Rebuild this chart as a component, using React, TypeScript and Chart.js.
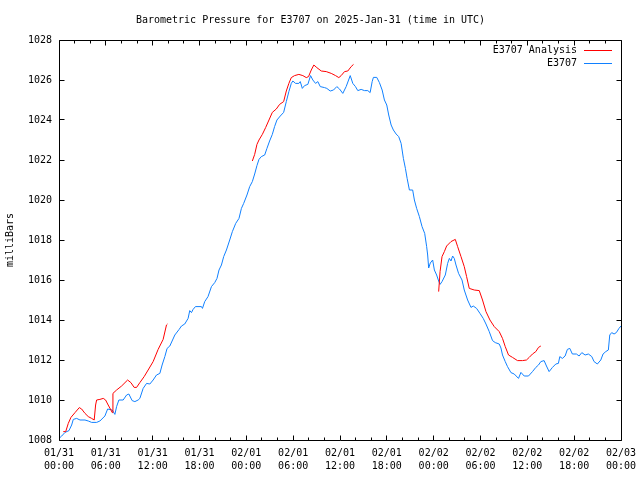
import React, { useEffect, useRef } from "react";
import { Chart, registerables } from "chart.js";

Chart.register(...registerables);

const chartTitle = "Barometric Pressure for E3707 on 2025-Jan-31 (time in UTC)";
const yAxisTitle = "milliBars";
const seriesNames = ["E3707 Analysis", "E3707"];
const seriesColors = ["#ff0000", "#1080ff"];

const xTickDates = ["01/31", "01/31", "01/31", "01/31", "02/01", "02/01", "02/01", "02/01", "02/02", "02/02", "02/02", "02/02", "02/03"];
const xTickTimes = ["00:00", "06:00", "12:00", "18:00", "00:00", "06:00", "12:00", "18:00", "00:00", "06:00", "12:00", "18:00", "00:00"];
const yTicks = [1008, 1010, 1012, 1014, 1016, 1018, 1020, 1022, 1024, 1026, 1028];

// hours since 2025-01-31 00:00 UTC
const stationHours = [
  0, 0.35, 0.77, 1.28, 1.62, 1.83, 2.26, 2.69, 3.33, 3.75, 4.18, 4.82, 5.24, 5.88, 6.23, 6.82, 7.16, 7.38, 7.67, 8.22,
  8.66, 8.95, 9.37, 9.72, 10.14, 10.36, 10.78, 11.22, 11.64, 12.06, 12.49, 12.92, 13.21, 13.56, 13.85, 14.2, 14.84, 15.39, 15.69, 16.11,
  16.54, 16.75, 16.97, 17.18, 17.48, 18.25, 18.38, 18.67, 19.09, 19.53, 19.95, 20.24, 20.5, 20.81, 21.1, 21.45, 21.87, 22.21, 22.64, 23.06,
  23.37, 23.66, 24.08, 24.43, 24.77, 25.07, 25.36, 25.62, 25.92, 26.35, 26.64, 26.98, 27.33, 27.62, 27.92, 28.35, 28.78, 29.12, 29.45, 29.76,
  29.96, 30.31, 30.73, 30.91, 31.17, 31.46, 31.88, 32.23, 32.52, 32.87, 33.16, 33.47, 34.02, 34.31, 34.75, 35.17, 35.59, 35.94, 36.36, 36.79,
  37.31, 37.64, 37.98, 38.28, 38.71, 39.13, 39.56, 39.86, 40.12, 40.28, 40.71, 41.05, 41.4, 41.69, 41.99, 42.24, 42.55, 42.84, 43.19, 43.52,
  43.83, 44.12, 44.38, 44.6, 44.89, 45.31, 45.53, 45.82, 46.17, 46.51, 46.85, 47.1, 47.23, 47.36, 47.57, 47.87, 48.09, 48.38, 48.64, 48.82,
  49.07, 49.49, 49.79, 50.01, 50.22, 50.43, 50.64, 50.86, 51.19, 51.63, 51.92, 52.35, 52.78, 53.07, 53.5, 53.93, 54.35, 54.7, 55.12, 55.54,
  55.89, 56.4, 56.62, 56.82, 57.17, 57.46, 57.9, 58.32, 58.87, 59.18, 59.6, 60.15, 60.66, 61.09, 61.43, 61.73, 62.15, 62.45, 62.79, 63.22,
  63.65, 63.98, 64.16, 64.49, 64.84, 65.13, 65.44, 65.77, 66.29, 66.63, 66.98, 67.4, 67.82, 68.26, 68.55, 68.97, 69.41, 69.7, 70.05, 70.38,
  70.56, 70.81, 71.11, 71.4, 71.74, 72
];
const stationPressure = [
  1008.08, 1008.2, 1008.38, 1008.47, 1008.75, 1009.03, 1009.08, 1009.0, 1009.0, 1008.95, 1008.88, 1008.88, 1008.95, 1009.2, 1009.55, 1009.5, 1009.28, 1009.67, 1010.0, 1010.0,
  1010.25, 1010.3, 1009.97, 1009.92, 1010.0, 1010.08, 1010.58, 1010.83, 1010.8, 1011.0, 1011.25, 1011.33, 1011.75, 1012.17, 1012.58, 1012.7, 1013.25, 1013.53, 1013.7, 1013.8,
  1014.08, 1014.47, 1014.37, 1014.53, 1014.67, 1014.67, 1014.58, 1014.92, 1015.17, 1015.67, 1015.87, 1016.08, 1016.5, 1016.75, 1017.17, 1017.5, 1018.0, 1018.42, 1018.83, 1019.08,
  1019.58, 1019.83, 1020.25, 1020.67, 1020.92, 1021.3, 1021.72, 1022.03, 1022.17, 1022.25, 1022.58, 1022.95, 1023.28, 1023.67, 1024.0, 1024.2, 1024.38, 1024.92, 1025.42, 1025.83,
  1025.95, 1025.83, 1025.83, 1025.92, 1025.58, 1025.72, 1025.78, 1026.22, 1026.0, 1025.83, 1025.92, 1025.67, 1025.62, 1025.58, 1025.45, 1025.5, 1025.67, 1025.55, 1025.33, 1025.67,
  1026.22, 1025.83, 1025.67, 1025.47, 1025.53, 1025.47, 1025.47, 1025.37, 1025.92, 1026.13, 1026.13, 1025.87, 1025.5, 1025.0, 1024.75, 1024.25, 1023.75, 1023.5, 1023.3, 1023.17,
  1022.83, 1022.08, 1021.58, 1021.08, 1020.5, 1020.5, 1020.0, 1019.58, 1019.17, 1018.67, 1018.33, 1017.67, 1017.25, 1016.6, 1016.85, 1017.0, 1016.5, 1016.25, 1015.95, 1015.78,
  1015.92, 1016.25, 1016.83, 1017.08, 1016.95, 1017.2, 1017.08, 1016.75, 1016.33, 1016.0, 1015.5, 1015.0, 1014.63, 1014.7, 1014.58, 1014.33, 1014.08, 1013.8, 1013.42, 1012.97,
  1012.87, 1012.8, 1012.6, 1012.25, 1011.92, 1011.67, 1011.37, 1011.3, 1011.08, 1011.38, 1011.2, 1011.2, 1011.42, 1011.63, 1011.75, 1011.92, 1011.97, 1011.7, 1011.42, 1011.63,
  1011.8, 1011.83, 1012.17, 1012.08, 1012.2, 1012.53, 1012.58, 1012.3, 1012.3, 1012.2, 1012.37, 1012.25, 1012.3, 1012.17, 1011.92, 1011.8, 1012.0, 1012.3, 1012.42, 1012.5,
  1013.25, 1013.37, 1013.3, 1013.37, 1013.58, 1013.7
];

// null values mark gaps in the analysis series
const analysisHours = [
  0.55, 0.86, 1.19, 1.53, 2.05, 2.6, 2.9, 3.33, 3.75, 4.18, 4.51, 4.69, 4.82, 5.24, 5.67, 5.97, 6.3, 6.65, 6.82, 6.91,
  7.38, 8.02, 8.79, 9.21, 9.63, 9.94, 10.36, 10.91, 11.42, 12.06, 12.7, 13.34, 13.77, 13.9, 14.5,
  24.77, 25.07, 25.36, 25.62, 26.05, 26.47, 26.9, 27.33, 27.84, 28.26, 28.78, 29.12, 29.45, 29.76, 30.18, 30.73, 31.24, 31.68, 31.97, 32.32,
  32.65, 33.03, 33.6, 34.24, 34.88, 35.43, 35.85, 36.15, 36.58, 37.0, 37.43, 37.73, 43,
  48.64, 48.82, 49.07, 49.37, 49.66, 50.22, 50.77, 51.07, 51.5, 51.92, 52.22, 52.56, 53.2, 53.84, 54.26, 54.7, 55.21, 55.76, 56.4, 56.82,
  57.17, 57.59, 58.1, 58.74, 59.38, 59.89, 60.24, 60.66, 61.09, 61.43, 61.73
];
const analysisPressure = [
  1008.42, 1008.42, 1008.83, 1009.13, 1009.37, 1009.62, 1009.55, 1009.33, 1009.17, 1009.08, 1009.0, 1009.75, 1010.0, 1010.03, 1010.08, 1010.0, 1009.75, 1009.5, 1009.37, 1010.33,
  1010.5, 1010.7, 1011.0, 1010.87, 1010.63, 1010.63, 1010.87, 1011.17, 1011.5, 1011.92, 1012.53, 1013.03, 1013.75, 1013.8, null,
  1021.95, 1022.28, 1022.78, 1023.0, 1023.28, 1023.62, 1024.0, 1024.38, 1024.55, 1024.78, 1024.92, 1025.45, 1025.83, 1026.12, 1026.22, 1026.28, 1026.22, 1026.12, 1026.17, 1026.5,
  1026.75, 1026.62, 1026.45, 1026.42, 1026.33, 1026.22, 1026.12, 1026.22, 1026.42, 1026.45, 1026.67, 1026.78, null,
  1015.42, 1016.42, 1017.17, 1017.42, 1017.7, 1017.92, 1018.03, 1017.67, 1017.17, 1016.67, 1016.17, 1015.58, 1015.5, 1015.47, 1015.0, 1014.42, 1014.0, 1013.67, 1013.42, 1013.08,
  1012.67, 1012.25, 1012.13, 1011.97, 1011.97, 1012.0, 1012.13, 1012.3, 1012.42, 1012.63, 1012.7
];

const FONT = "'DejaVu Sans Mono', 'Liberation Mono', monospace";

const framePlugin = {
  id: "gnuplotFrame",
  afterDraw(chart: any) {
    const { ctx, chartArea, scales } = chart;
    const xs = scales.x;
    const ys = scales.y;
    const L = Math.floor(chartArea.left) + 0.5;
    const R = Math.floor(chartArea.right) + 0.5;
    const T = Math.floor(chartArea.top) + 0.5;
    const B = Math.floor(chartArea.bottom) + 0.5;
    ctx.save();
    ctx.strokeStyle = "#000";
    ctx.lineWidth = 1;
    ctx.beginPath();
    ctx.rect(L, T, R - L, B - T);
    // x ticks: major every 6h, minor every 2h, on bottom and top (inward)
    for (let h = 0; h <= 72; h += 2) {
      const px = Math.floor(xs.getPixelForValue(h)) + 0.5;
      const len = h % 6 === 0 ? 5 : 3;
      ctx.moveTo(px, B);
      ctx.lineTo(px, B - len);
      ctx.moveTo(px, T);
      ctx.lineTo(px, T + len);
    }
    // y ticks on left and right (inward)
    for (const v of yTicks) {
      const py = Math.floor(ys.getPixelForValue(v)) + 0.5;
      ctx.moveTo(L, py);
      ctx.lineTo(L + 5, py);
      ctx.moveTo(R, py);
      ctx.lineTo(R - 5, py);
    }
    ctx.stroke();

    // legend (gnuplot style: text right-aligned, sample line to the right)
    ctx.font = `10px ${FONT}`;
    ctx.textAlign = "right";
    ctx.textBaseline = "middle";
    ctx.fillStyle = "#000";
    const legendY = [50, 63];
    seriesNames.forEach((name, i) => {
      const y = legendY[i];
      ctx.fillText(name, 577, y);
      ctx.beginPath();
      ctx.strokeStyle = seriesColors[i];
      ctx.moveTo(584, y + 0.5);
      ctx.lineTo(612, y + 0.5);
      ctx.stroke();
    });
    ctx.restore();
  },
};

export default function App() {
  const canvasRef = useRef<HTMLCanvasElement | null>(null);

  useEffect(() => {
    const canvas = canvasRef.current;
    if (!canvas) return;
    const analysisData = analysisHours.map((h, i) => ({ x: h, y: analysisPressure[i] }));
    const stationData = stationHours.map((h, i) => ({ x: h, y: stationPressure[i] }));
    const chart = new Chart(canvas, {
      type: "line",
      data: {
        datasets: [
          {
            label: seriesNames[0],
            data: analysisData as any,
            borderColor: seriesColors[0],
            backgroundColor: seriesColors[0],
            borderWidth: 1,
            pointRadius: 0,
            tension: 0,
            spanGaps: false,
          },
          {
            label: seriesNames[1],
            data: stationData as any,
            borderColor: seriesColors[1],
            backgroundColor: seriesColors[1],
            borderWidth: 1,
            pointRadius: 0,
            tension: 0,
            spanGaps: false,
          },
        ],
      },
      options: {
        responsive: false,
        animation: false,
        devicePixelRatio: 1,
        layout: { padding: { left: 0, right: 19, top: 0, bottom: 0 } },
        plugins: {
          legend: { display: false },
          tooltip: { enabled: false },
          title: {
            display: true,
            text: chartTitle,
            color: "#000",
            font: { family: FONT, size: 10, weight: "normal", lineHeight: 1.2 },
            padding: { top: 14, bottom: 14 },
          },
        },
        scales: {
          x: {
            type: "linear",
            min: 0,
            max: 72,
            grid: { display: false, drawTicks: false },
            border: { display: false },
            afterBuildTicks: (scale: any) => {
              scale.ticks = xTickDates.map((_, i) => ({ value: i * 6 }));
            },
            ticks: {
              autoSkip: false,
              maxRotation: 0,
              minRotation: 0,
              padding: 7,
              color: "#000",
              font: { family: FONT, size: 10, lineHeight: 1.3 },
              callback: (value: any) => {
                const i = Math.round(Number(value) / 6);
                return [xTickDates[i], xTickTimes[i]];
              },
            },
            afterFit: (scale: any) => {
              scale.height = 40;
              scale.paddingLeft = 0;
              scale.paddingRight = 0;
            },
          },
          y: {
            type: "linear",
            min: 1008,
            max: 1028,
            grid: { display: false, drawTicks: false },
            border: { display: false },
            afterBuildTicks: (scale: any) => {
              scale.ticks = yTicks.map((v) => ({ value: v }));
            },
            ticks: {
              padding: 7,
              color: "#000",
              font: { family: FONT, size: 10 },
              callback: (value: any) => String(value),
            },
            title: {
              display: true,
              text: yAxisTitle,
              color: "#000",
              font: { family: FONT, size: 10, lineHeight: 1.2 },
              padding: { top: 4, bottom: 4 },
            },
            afterFit: (scale: any) => {
              scale.width = 59;
              scale.paddingTop = 0;
              scale.paddingBottom = 0;
            },
          },
        },
      },
      plugins: [framePlugin],
    });
    return () => chart.destroy();
  }, []);

  return (
    <div style={{ position: "absolute", left: 0, top: 0, width: 640, height: 480, background: "#fff" }}>
      <canvas ref={canvasRef} width={640} height={480} />
    </div>
  );
}
